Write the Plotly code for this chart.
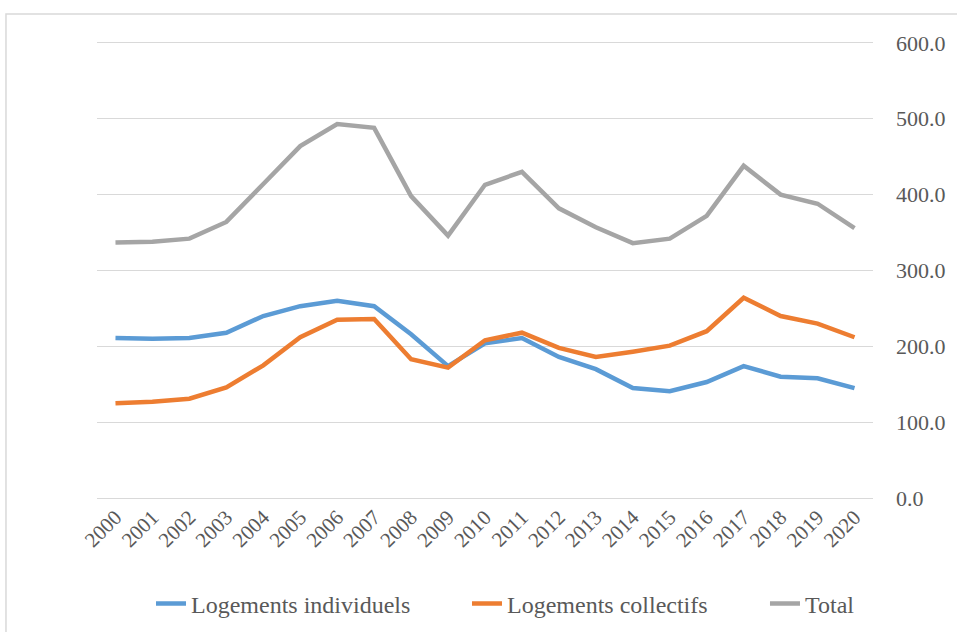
import plotly.graph_objects as go

years = [str(y) for y in range(2000, 2021)]
individuels = [211, 210, 211, 218, 240, 253, 260, 253, 216, 174, 204, 211, 186, 170, 145, 141, 153, 174, 160, 158, 145]
collectifs = [125, 127, 131, 146, 175, 212, 235, 236, 183, 172, 208, 218, 198, 186, 193, 201, 220, 264, 240, 230, 212]
total = [337, 338, 342, 364, 414, 464, 493, 488, 398, 346, 413, 430, 382, 357, 336, 342, 372, 438, 400, 388, 356]
y_ticks = [0, 100, 200, 300, 400, 500, 600]

font_family = "Times New Roman, Liberation Serif, DejaVu Serif, serif"
series = [
    ("Logements individuels", individuels, "#5B9BD5", "legend", 0.0696),
    ("Logements collectifs", collectifs, "#ED7D31", "legend2", 0.4768),
    ("Total", total, "#A5A5A5", "legend3", 0.8608),
]

fig = go.Figure()
legends = {}
for name, vals, color, leg, lx in series:
    fig.add_trace(go.Scatter(x=years, y=vals, name=name, mode="lines", legend=leg,
                             line=dict(color=color, width=4.5)))
    legends[leg] = dict(orientation="h", x=lx, xanchor="left", xref="paper",
                        y=0.0443, yanchor="middle", yref="container",
                        font=dict(size=24, family=font_family, color="#595959"),
                        bgcolor="rgba(0,0,0,0)")

fig.update_layout(
    width=957, height=632,
    margin=dict(l=97, r=84, t=41, b=132),
    paper_bgcolor="white", plot_bgcolor="white",
    font=dict(family=font_family, color="#595959"),
    showlegend=True,
    xaxis=dict(type="category", range=[-0.5, 20.5], tickangle=-45,
               tickfont=dict(size=21, family=font_family, color="#595959"),
               showgrid=False, showline=False, ticks="", zeroline=False),
    yaxis=dict(side="right", range=[-2.5, 602.5], tickvals=y_ticks, tickformat=".1f",
               tickfont=dict(size=22, family=font_family, color="#595959"), showgrid=True,
               gridcolor="#D9D9D9", gridwidth=1.3, zeroline=False, showline=False, ticks="",
               ticklabelstandoff=22),
    shapes=[dict(type="rect", xref="paper", yref="paper", x0=-0.1173, y0=-0.6, x1=1.3, y1=1.0588,
                 line=dict(color="#D9D9D9", width=1.5), fillcolor="rgba(0,0,0,0)", layer="below")],
    **legends,
)

fig.write_html("out.html", config={"displayModeBar": False},
               post_script="document.body.style.margin='0';")
